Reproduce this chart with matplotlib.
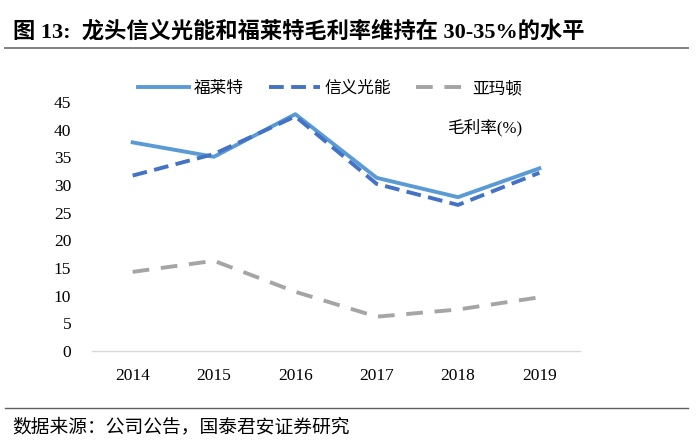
import matplotlib
matplotlib.use("Agg")
import matplotlib.pyplot as plt
from matplotlib.lines import Line2D

years = ["2014", "2015", "2016", "2017", "2018", "2019"]
flat = [37.7, 35.1, 42.8, 31.3, 27.8, 33.0]      # 福莱特
xinyi = [31.7, 35.6, 42.4, 30.2, 26.4, 32.2]     # 信义光能
almaden = [14.3, 16.3, 10.7, 6.2, 7.5, 9.7]      # 亚玛顿
series_names = ["福莱特", "信义光能", "亚玛顿"]
yticks = [0, 5, 10, 15, 20, 25, 30, 35, 40, 45]

FAM = ["Liberation Serif", "Noto Sans CJK SC", "DejaVu Sans"]
plt.rcParams["font.family"] = FAM

fig = plt.figure(figsize=(7.0, 4.47), dpi=100)
ax = fig.add_axes([92/700, 1-351/447, 488/700, (351-102)/447])

x = list(range(len(years)))
c1, c2, c3 = "#5B9BD5", "#4472C4", "#A5A5A5"
d2 = (3.8, 1.9)
d3 = (4.3, 3.0)
ax.plot(x, flat, color=c1, lw=2.8)
ax.plot(x, xinyi, color=c2, lw=2.8, dashes=d2)
ax.plot(x, almaden, color=c3, lw=2.8, dashes=d3)

ax.set_xlim(-0.5, len(years)-0.5)
ax.set_ylim(0, 45)
ax.set_xticks(x)
ax.set_xticklabels(years, fontsize=12.5)
ax.set_yticks(yticks)
ax.set_yticklabels([str(v) for v in yticks], fontsize=12.5)
ax.tick_params(length=0)
ax.tick_params(axis="x", pad=12)
ax.tick_params(axis="y", pad=15)
for s in ["top", "right", "left"]:
    ax.spines[s].set_visible(False)
ax.spines["bottom"].set_color("#D9D9D9")
ax.spines["bottom"].set_linewidth(1.0)

handles = [Line2D([], [], color=c1, lw=2.8),
           Line2D([], [], color=c2, lw=2.8, dashes=d2),
           Line2D([], [], color=c3, lw=2.8, dashes=d3)]
leg = fig.legend(handles, series_names, loc="center", bbox_to_anchor=(330/700, 1-89/447),
                 ncol=3, frameon=False, fontsize=12, handlelength=3.05, columnspacing=1.5,
                 handletextpad=0.3, borderpad=0, borderaxespad=0)

fig.text(447/700, 1-128/447, "毛利率(%)", fontsize=12, va="center", ha="left")

fig.text(13/700, 1-32/447, "图 13:  龙头信义光能和福莱特毛利率维持在 30-35%的水平",
         fontsize=16, fontweight="bold", va="center", ha="left")
fig.add_artist(Line2D([5/700, 688/700], [1-48/447, 1-48/447], color="#808080", lw=1.4))
fig.add_artist(Line2D([5/700, 688/700], [1-408/447, 1-408/447], color="#606060", lw=1.0))
fig.text(12/700, 1-427/447, "数据来源：公司公告，国泰君安证券研究", fontsize=13.5,
         va="center", ha="left")

fig.savefig("out.png", dpi=100)
